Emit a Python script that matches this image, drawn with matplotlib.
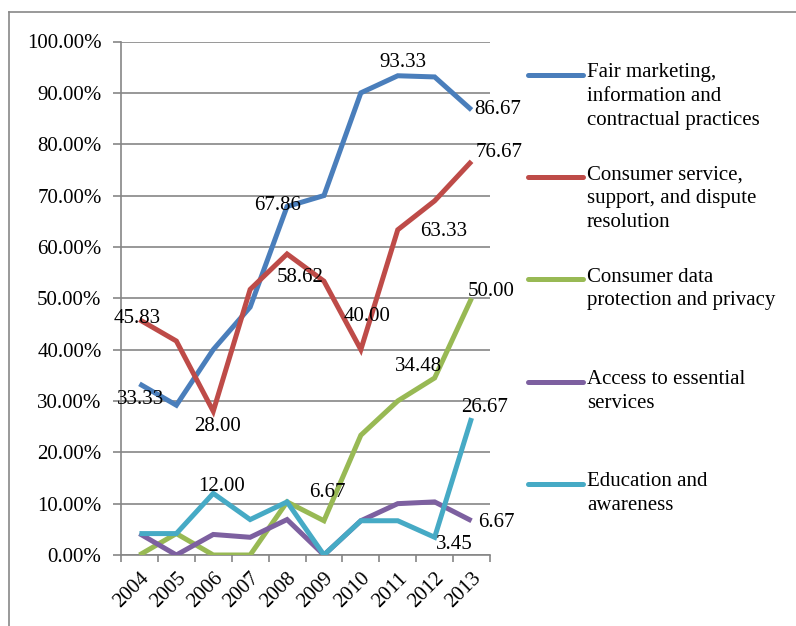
"""
Share of complaints by theme, 2004-2013
"""

import matplotlib.pyplot as plt
from matplotlib.lines import Line2D
from matplotlib.ticker import FuncFormatter, MultipleLocator

plt.rcParams['font.family'] = ['Liberation Serif', 'DejaVu Serif']

years = ['2004', '2005', '2006', '2007', '2008',
         '2009', '2010', '2011', '2012', '2013']

fair_marketing = [33.33, 29.17, 40.00, 48.28, 67.86, 70.00, 90.00, 93.33, 93.10, 86.67]
consumer_service = [45.83, 41.67, 28.00, 51.72, 58.62, 53.33, 40.00, 63.33, 68.97, 76.67]
data_protection = [0.00, 4.17, 0.00, 0.00, 10.34, 6.67, 23.33, 30.00, 34.48, 50.00]
essential_services = [4.17, 0.00, 4.00, 3.45, 6.90, 0.00, 6.67, 10.00, 10.34, 6.67]
education = [4.17, 4.17, 12.00, 6.90, 10.34, 0.00, 6.67, 6.67, 3.45, 26.67]

series_names = ['Fair marketing,\ninformation and\ncontractual practices',
                'Consumer service,\nsupport, and dispute\nresolution',
                'Consumer data\nprotection and privacy',
                'Access to essential\nservices',
                'Education and\nawareness']
series = [fair_marketing, consumer_service, data_protection,
          essential_services, education]
colors = ['#4a7ebb', '#be4b48', '#98b954', '#7d60a0', '#46aac5']

# (series, year index, dx px, dy px, horizontal alignment)
value_labels = [
    (0, 0, 1.5, -16, 'center'), (0, 4, -9, 1, 'center'),
    (0, 7, 5, 13, 'center'), (0, 9, 3, 0, 'left'),
    (1, 0, -2, 1, 'center'), (1, 2, 4, -15, 'center'),
    (1, 4, 13, -24, 'center'), (1, 6, 6, 33, 'center'),
    (1, 7, 22, -1.5, 'left'), (1, 9, 4.5, 9, 'left'),
    (2, 5, 3, 28, 'center'), (2, 8, -16, 11, 'center'),
    (2, 9, -3.5, 7, 'left'),
    (3, 9, 6.5, -2, 'left'),
    (4, 2, 8, 7, 'center'), (4, 8, 20, -7, 'center'),
    (4, 9, 13.5, 11, 'center'),
]

fig = plt.figure(figsize=(7.96, 6.26), dpi=100)
ax = fig.add_axes([121 / 796, 71 / 626, 369 / 796, 513.5 / 626])

x = list(range(len(years)))
for vals, c in zip(series, colors):
    ax.plot(x, vals, color=c, linewidth=3.6, solid_joinstyle='miter',
            solid_capstyle='butt', zorder=3)

for s, i, dx, dy, ha in value_labels:
    v = series[s][i]
    ax.annotate('%.2f' % v, (x[i], v), xytext=(dx, dy),
                textcoords='offset pixels', ha=ha, va='center',
                fontsize=15, zorder=4)

grid_c = '#868686'
ax.set_xlim(-0.5, len(years) - 0.5)
ax.set_ylim(0, 100)
ax.yaxis.set_major_locator(MultipleLocator(10))
ax.yaxis.set_major_formatter(FuncFormatter(lambda v, p: '%.2f%%' % v))
ax.grid(axis='y', color=grid_c, linewidth=1.2, zorder=0)
ax.set_axisbelow(True)

ax.set_xticks(x)
ax.set_xticklabels(years, rotation=45, ha='right', va='top',
                   rotation_mode='anchor')
ax.set_xticks([i - 0.5 for i in range(len(years) + 1)], minor=True)
ax.tick_params(axis='x', which='major', length=0, pad=10, labelsize=15)
ax.tick_params(axis='x', which='minor', length=5, width=1.2, color=grid_c,
               direction='out')
ax.tick_params(axis='y', length=6, width=1.2, color=grid_c, pad=8,
               labelsize=15)

for side in ['top', 'right']:
    ax.spines[side].set_visible(False)
for side in ['left', 'bottom']:
    ax.spines[side].set_color(grid_c)
    ax.spines[side].set_linewidth(1.2)

# legend drawn by hand so entries sit at an even pitch
W, H = 796, 626
for k, (name, c) in enumerate(zip(series_names, colors)):
    y = 75 + k * 102.25
    fig.add_artist(Line2D([528 / W, 583 / W], [1 - y / H, 1 - y / H],
                          color=c, linewidth=3.6, solid_capstyle='round'))
    fig.text(587 / W, 1 - (y - 12) / H, name, ha='left', va='top',
             fontsize=15, linespacing=1.35)

# outer chart frame
fig.add_artist(Line2D([9 / W, 9 / W], [0, 1 - 12 / H], color='#888888',
                      linewidth=1.2))
fig.add_artist(Line2D([9 / W, 1], [1 - 12 / H, 1 - 12 / H], color='#888888',
                      linewidth=1.2))

fig.savefig('out.png', dpi=100)
